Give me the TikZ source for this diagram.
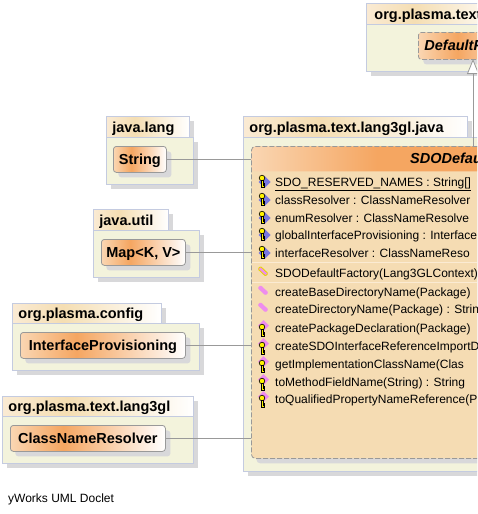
\documentclass[tikz,border=0pt]{standalone}
\usepackage{fontspec}
\setmainfont{Liberation Sans}
\usetikzlibrary{arrows.meta,positioning,shadows}

\definecolor{pkgfill}{HTML}{F3F3DC}
\definecolor{pkgline}{HTML}{C4CBE0}
\definecolor{shadowgray}{HTML}{D8D8DA}
\definecolor{classfill}{HTML}{F5DCB3}
\definecolor{edgegray}{HTML}{999999}
\definecolor{sepline}{HTML}{FBEBD3}
\definecolor{iconpink}{HTML}{EE8CEE}
\definecolor{iconblue}{HTML}{7878E0}
\definecolor{iconyellow}{HTML}{E8D800}

\pgfdeclarehorizontalshading{tabfade}{100bp}{
  rgb(0bp)=(0.98,0.92,0.83); rgb(25bp)=(0.98,0.92,0.83);
  rgb(42bp)=(0.96,0.87,0.70); rgb(75bp)=(1,1,1); rgb(100bp)=(1,1,1)}
\pgfdeclarehorizontalshading{classfade}{100bp}{
  rgb(0bp)=(0.98,0.84,0.70); rgb(25bp)=(0.98,0.84,0.70);
  rgb(42bp)=(0.96,0.65,0.38); rgb(75bp)=(1,1,1); rgb(100bp)=(1,1,1)}
\pgfdeclarehorizontalshading{titlefade}{100bp}{
  rgb(0bp)=(0.98,0.84,0.70); rgb(25bp)=(0.98,0.84,0.70);
  rgb(42bp)=(0.96,0.65,0.38); rgb(56bp)=(0.96,0.65,0.38); rgb(75bp)=(1,1,1); rgb(100bp)=(1,1,1)}

\tikzset{
  keyshape/.pic = {
    \draw[line width=0.6pt, fill=yellow] (-1,-4) circle (2.8pt);
    \draw[line width=0.6pt, fill=yellow] (-2,-1.5) -- (0,-1.5) -- (0,1) -- (1.6,1) -- (1.6,2.4) -- (0,2.4) -- (0,3.4) -- (1.6,3.4) -- (1.6,4.8) -- (-2,4.8) -- cycle;
  },
  fieldicon/.pic = {
    \fill[iconblue] (1.5,-6) -- (7.5,0) -- (1.5,6) -- (-4.5,0) -- cycle;
    \pic {keyshape};
  },
  methodicon/.pic = {
    \fill[iconpink] (0.5,-8) -- (6,-2.5) -- (0.5,3) -- (-5,-2.5) -- cycle;
    \pic at (0,3) {keyshape};
  },
  slivericon/.pic = {
    \draw[iconpink, line width=0.6pt, fill=iconpink, rounded corners=1pt] (-5,-4) -- (-2.5,-6.5) -- (5,0.5) -- (2.5,3) -- cycle;
  },
  ctoricon/.pic = {
    \draw[iconyellow, line width=0.9pt, fill=iconpink, rounded corners=1pt] (-5,-4) -- (-2.5,-6.5) -- (5,0.5) -- (2.5,3) -- cycle;
  }
}

\begin{document}
\begin{tikzpicture}[
  x=1pt, y=-1pt,
  shade box/.style = {drop shadow={shadow xshift=5pt, shadow yshift=-5pt, opacity=1, fill=shadowgray}},
  pkgbody/.style = {draw=pkgline, line width=0.8pt, fill=pkgfill, shade box, anchor=north west, inner sep=0pt},
  pkgtab/.style = {draw=pkgline, line width=0.8pt, shade box, shading=tabfade, anchor=north west, inner sep=0pt,
    font=\bfseries\fontsize{14.5}{14.5}\selectfont, align=left, text height=11pt, text depth=0pt},
  classbox/.style = {draw=edgegray, line width=0.8pt, rounded corners=3pt, shade box, shading=classfade, anchor=north west,
    inner sep=0pt, font=\bfseries\fontsize{14.5}{14.5}\selectfont, text height=10pt, text depth=0pt},
  member/.style = {anchor=west, inner sep=0pt, font=\fontsize{12}{12}\selectfont, text height=8pt, text depth=0pt},
  dashes/.style = {dash pattern=on 5pt off 2pt},
  uses/.style = {draw=edgegray, line width=0.8pt},
  extends/.style = {draw=edgegray, line width=0.8pt, -{Triangle[open, fill=white, length=15pt, width=12pt]}}
]
\useasboundingbox (0,0) rectangle (477,514);
\clip (0,0) rectangle (477,514);

% top package
\node[pkgtab, minimum height=21pt, text width=140pt] (toptab) at (366,3) {\hspace{8pt}org.plasma.text};
\node[pkgbody, minimum width=140pt, minimum height=47pt] (topbody) at (366,24) {};
\node[classbox, minimum height=27pt, dashes, text width=115pt, align=left, font=\bfseries\itshape\fontsize{14.5}{14.5}\selectfont] (defaultclass) at (418,32) {\hspace{6pt}DefaultF};

% main package
\node[pkgtab, minimum height=21pt, text width=224pt] (maintab) at (243,116) {\hspace{6pt}org.plasma.text.lang3gl.java};
\node[pkgbody, minimum width=400pt, minimum height=334pt] (mainbody) at (243,137) {};
\node[draw=edgegray, line width=0.8pt, dashes, rounded corners=4pt, fill=classfill, shade box, anchor=north west, minimum width=370pt, minimum height=312pt, inner sep=0pt,
  path picture={\shade[shading=titlefade] (path picture bounding box.north west) rectangle ([yshift=-25pt]path picture bounding box.north east);}] (sdoclass) at (251,146) {};
\node[anchor=west, inner sep=0pt, font=\bfseries\itshape\fontsize{14.5}{14.5}\selectfont, text height=10pt, text depth=0pt] (sdoname) at (410,158) {SDODefau};

% other packages
\node[pkgtab, minimum height=21pt, text width=83pt] (langtab) at (106,116) {\hspace{6pt}java.lang};
\node[pkgbody, minimum width=87pt, minimum height=47pt] (langbody) at (106,137) {};
\node[classbox, minimum width=53pt, minimum height=26pt] (string) at (113,146) {String};

\node[pkgtab, minimum height=21pt, text width=75pt] (utiltab) at (93,209) {\hspace{6pt}java.util};
\node[pkgbody, minimum width=106pt, minimum height=47pt] (utilbody) at (93,230) {};
\node[classbox, minimum width=84pt, minimum height=26pt] (map) at (101,239) {Map<K, V>};

\node[pkgtab, minimum height=20pt, text width=149pt] (configtab) at (12,303) {\hspace{6pt}org.plasma.config};
\node[pkgbody, minimum width=187pt, minimum height=47pt] (configbody) at (12,323) {};
\node[classbox, minimum width=165pt, minimum height=26pt] (provisioning) at (20,332) {InterfaceProvisioning};

\node[pkgtab, minimum height=20pt, text width=191pt] (lang3gltab) at (2,396) {\hspace{6pt}org.plasma.text.lang3gl};
\node[pkgbody, minimum width=191pt, minimum height=47pt] (lang3glbody) at (2,416) {};
\node[classbox, minimum width=155pt, minimum height=26pt] (resolver) at (10,425) {ClassNameResolver};

% fields and methods
\node[member] (f1) at (275,182) {\underline{SDO\_RESERVED\_NAMES : String[]}};
\node[member] (f2) at (275,200) {classResolver : ClassNameResolver};
\node[member] (f3) at (275,218) {enumResolver : ClassNameResolve};
\node[member] (f4) at (275,235) {globalInterfaceProvisioning : Interface};
\node[member] (f5) at (275,253) {interfaceResolver : ClassNameReso};
\node[member] (c1) at (275,273) {SDODefaultFactory(Lang3GLContext)};
\node[member] (m1) at (275,292) {createBaseDirectoryName(Package)};
\node[member] (m2) at (275,309) {createDirectoryName(Package) : Strin};
\node[member] (m3) at (275,328) {createPackageDeclaration(Package)};
\node[member] (m4) at (275,346) {createSDOInterfaceReferenceImportD};
\node[member] (m5) at (275,364) {getImplementationClassName(Clas};
\node[member] (m6) at (275,382) {toMethodFieldName(String) : String};
\node[member] (m7) at (275,399) {toQualifiedPropertyNameReference(P};

% icons in front of the members
\pic at ([xshift=-12pt]f1.west) {fieldicon};
\pic at ([xshift=-12pt]f2.west) {fieldicon};
\pic at ([xshift=-12pt]f3.west) {fieldicon};
\pic at ([xshift=-12pt]f4.west) {fieldicon};
\pic at ([xshift=-12pt]f5.west) {fieldicon};
\pic at ([xshift=-12pt]c1.west) {ctoricon};
\pic at ([xshift=-12pt]m1.west) {slivericon};
\pic at ([xshift=-12pt]m2.west) {slivericon};
\pic at ([xshift=-12pt]m3.west) {methodicon};
\pic at ([xshift=-12pt]m4.west) {methodicon};
\pic at ([xshift=-12pt]m5.west) {methodicon};
\pic at ([xshift=-12pt]m6.west) {methodicon};
\pic at ([xshift=-12pt]m7.west) {methodicon};

% separators
\draw[sepline, line width=1pt] (252,262) -- (477,262);
\draw[sepline, line width=1pt] (252,282) -- (477,282);

% connectors
\draw[uses] (string.east) -- (string.east -| sdoclass.west);
\draw[uses] (map.east) -- (map.east -| sdoclass.west);
\draw[uses] (provisioning.east) -- (provisioning.east -| sdoclass.west);
\draw[uses] (resolver.east) -- (resolver.east -| sdoclass.west);
\coordinate (sdotop) at (473,146);
\coordinate (defaultbottom) at (473,59);
\draw[extends] (sdotop) -- (defaultbottom);

\node[anchor=west, inner sep=0pt, font=\fontsize{12}{12}\selectfont, text height=8pt, text depth=0pt] (doclet) at (8,498) {yWorks UML Doclet};
\end{tikzpicture}
\end{document}
